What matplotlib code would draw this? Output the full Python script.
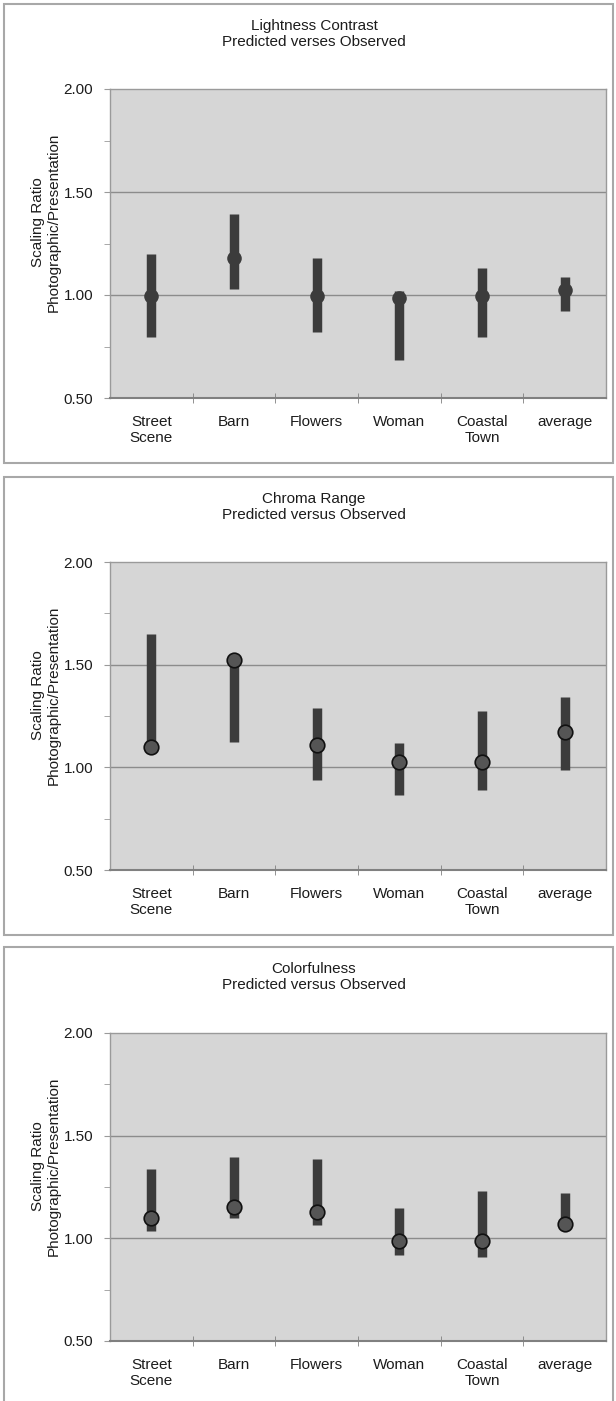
import numpy as np
import matplotlib.pyplot as plt
from matplotlib.patches import Rectangle
from matplotlib.ticker import MultipleLocator, FixedLocator

plt.rcParams['font.family'] = ['Liberation Sans', 'DejaVu Sans']

scenes = ["Street\nScene", "Barn", "Flowers", "Woman", "Coastal\nTown", "average"]

# lightness contrast
light_low = [0.794, 1.029, 0.818, 0.686, 0.797, 0.924]
light_high = [1.199, 1.394, 1.178, 1.018, 1.133, 1.086]
light_pred = [0.994, 1.178, 0.994, 0.984, 0.994, 1.026]

# chroma range
chroma_low = [1.099, 1.122, 0.937, 0.863, 0.888, 0.989]
chroma_high = [1.650, 1.525, 1.289, 1.119, 1.273, 1.341]
chroma_pred = [1.099, 1.525, 1.111, 1.028, 1.028, 1.174]

# colorfulness
color_low = [1.034, 1.098, 1.064, 0.920, 0.907, 1.072]
color_high = [1.339, 1.394, 1.386, 1.147, 1.231, 1.220]
color_pred = [1.099, 1.153, 1.127, 0.987, 0.987, 1.072]

titles = ["Lightness Contrast\nPredicted verses Observed",
          "Chroma Range\nPredicted versus Observed",
          "Colorfulness\nPredicted versus Observed"]

W, H = 616, 1401
fig = plt.figure(figsize=(W / 100, H / 100), dpi=100)

# pixel layout: (box top, box bottom, plot top, plot bottom, title y)
panels = [
    (4, 463, 89, 398, 34),
    (477, 935, 562, 870, 507),
    (947, 1410, 1033, 1341, 977),
]
series = [
    (light_low, light_high, light_pred, False),
    (chroma_low, chroma_high, chroma_pred, True),
    (color_low, color_high, color_pred, True),
]

bar_col = '#3c3c3c'
txt_col = '#1c1c1c'
fs = 11
x = np.arange(len(scenes))

for (btop, bbot, ptop, pbot, ty), (lo, hi, pred, edged), title in zip(panels, series, titles):
    # frame round each chart
    fig.patches.append(Rectangle((4 / W, 1 - bbot / H), 609 / W, (bbot - btop) / H,
                                 transform=fig.transFigure, fill=False,
                                 edgecolor='#a8a8a8', lw=1.5))
    ax = fig.add_axes([110 / W, 1 - pbot / H, 496 / W, (pbot - ptop) / H])
    ax.set_facecolor('#d6d6d6')
    ax.set_xlim(-0.5, len(scenes) - 0.5)
    ax.set_ylim(0.5, 2.0)
    for s in ax.spines.values():
        s.set_color('#9a9a9a')
        s.set_linewidth(1.0)
    ax.spines['bottom'].set_color('#808080')
    ax.spines['bottom'].set_linewidth(1.5)

    ax.yaxis.set_major_locator(MultipleLocator(0.5))
    ax.yaxis.set_minor_locator(MultipleLocator(0.25))
    ax.yaxis.set_major_formatter(plt.FuncFormatter(lambda v, p: f"{v:.2f}"))
    ax.tick_params(axis='y', which='both', direction='out', length=4, color='#9a9a9a',
                   labelsize=fs, labelcolor=txt_col, pad=8)
    for v in (1.0, 1.5):
        ax.axhline(v, color='#8c8c8c', lw=1.0, zorder=1)

    ax.xaxis.set_major_locator(FixedLocator(x))
    ax.xaxis.set_minor_locator(FixedLocator(np.arange(0.5, len(scenes) - 1, 1)))
    ax.set_xticklabels(scenes, fontsize=fs, color=txt_col, linespacing=1.2)
    ax.tick_params(axis='x', which='major', length=0, pad=12)
    ax.tick_params(axis='x', which='minor', direction='inout', length=7, color='#808080')

    ax.vlines(x, lo, hi, colors=bar_col, lw=6.8, zorder=3, capstyle='butt')
    if edged:
        ax.plot(x, pred, 'o', ms=10.5, mfc='#555555', mec='#111111', mew=1.2, zorder=4)
    else:
        ax.plot(x, pred, 'o', ms=10.5, mfc=bar_col, mec=bar_col, mew=0, zorder=4)

    fig.text(314 / W, 1 - ty / H, title, ha='center', va='center', fontsize=fs,
             color=txt_col, linespacing=1.2)
    fig.text(46 / W, 1 - ((ptop + pbot) / 2 - 21) / H,
             "Scaling Ratio\nPhotographic/Presentation", rotation=90,
             ha='center', va='center', fontsize=fs, color=txt_col, linespacing=1.1)

fig.savefig("out.png", dpi=100)
